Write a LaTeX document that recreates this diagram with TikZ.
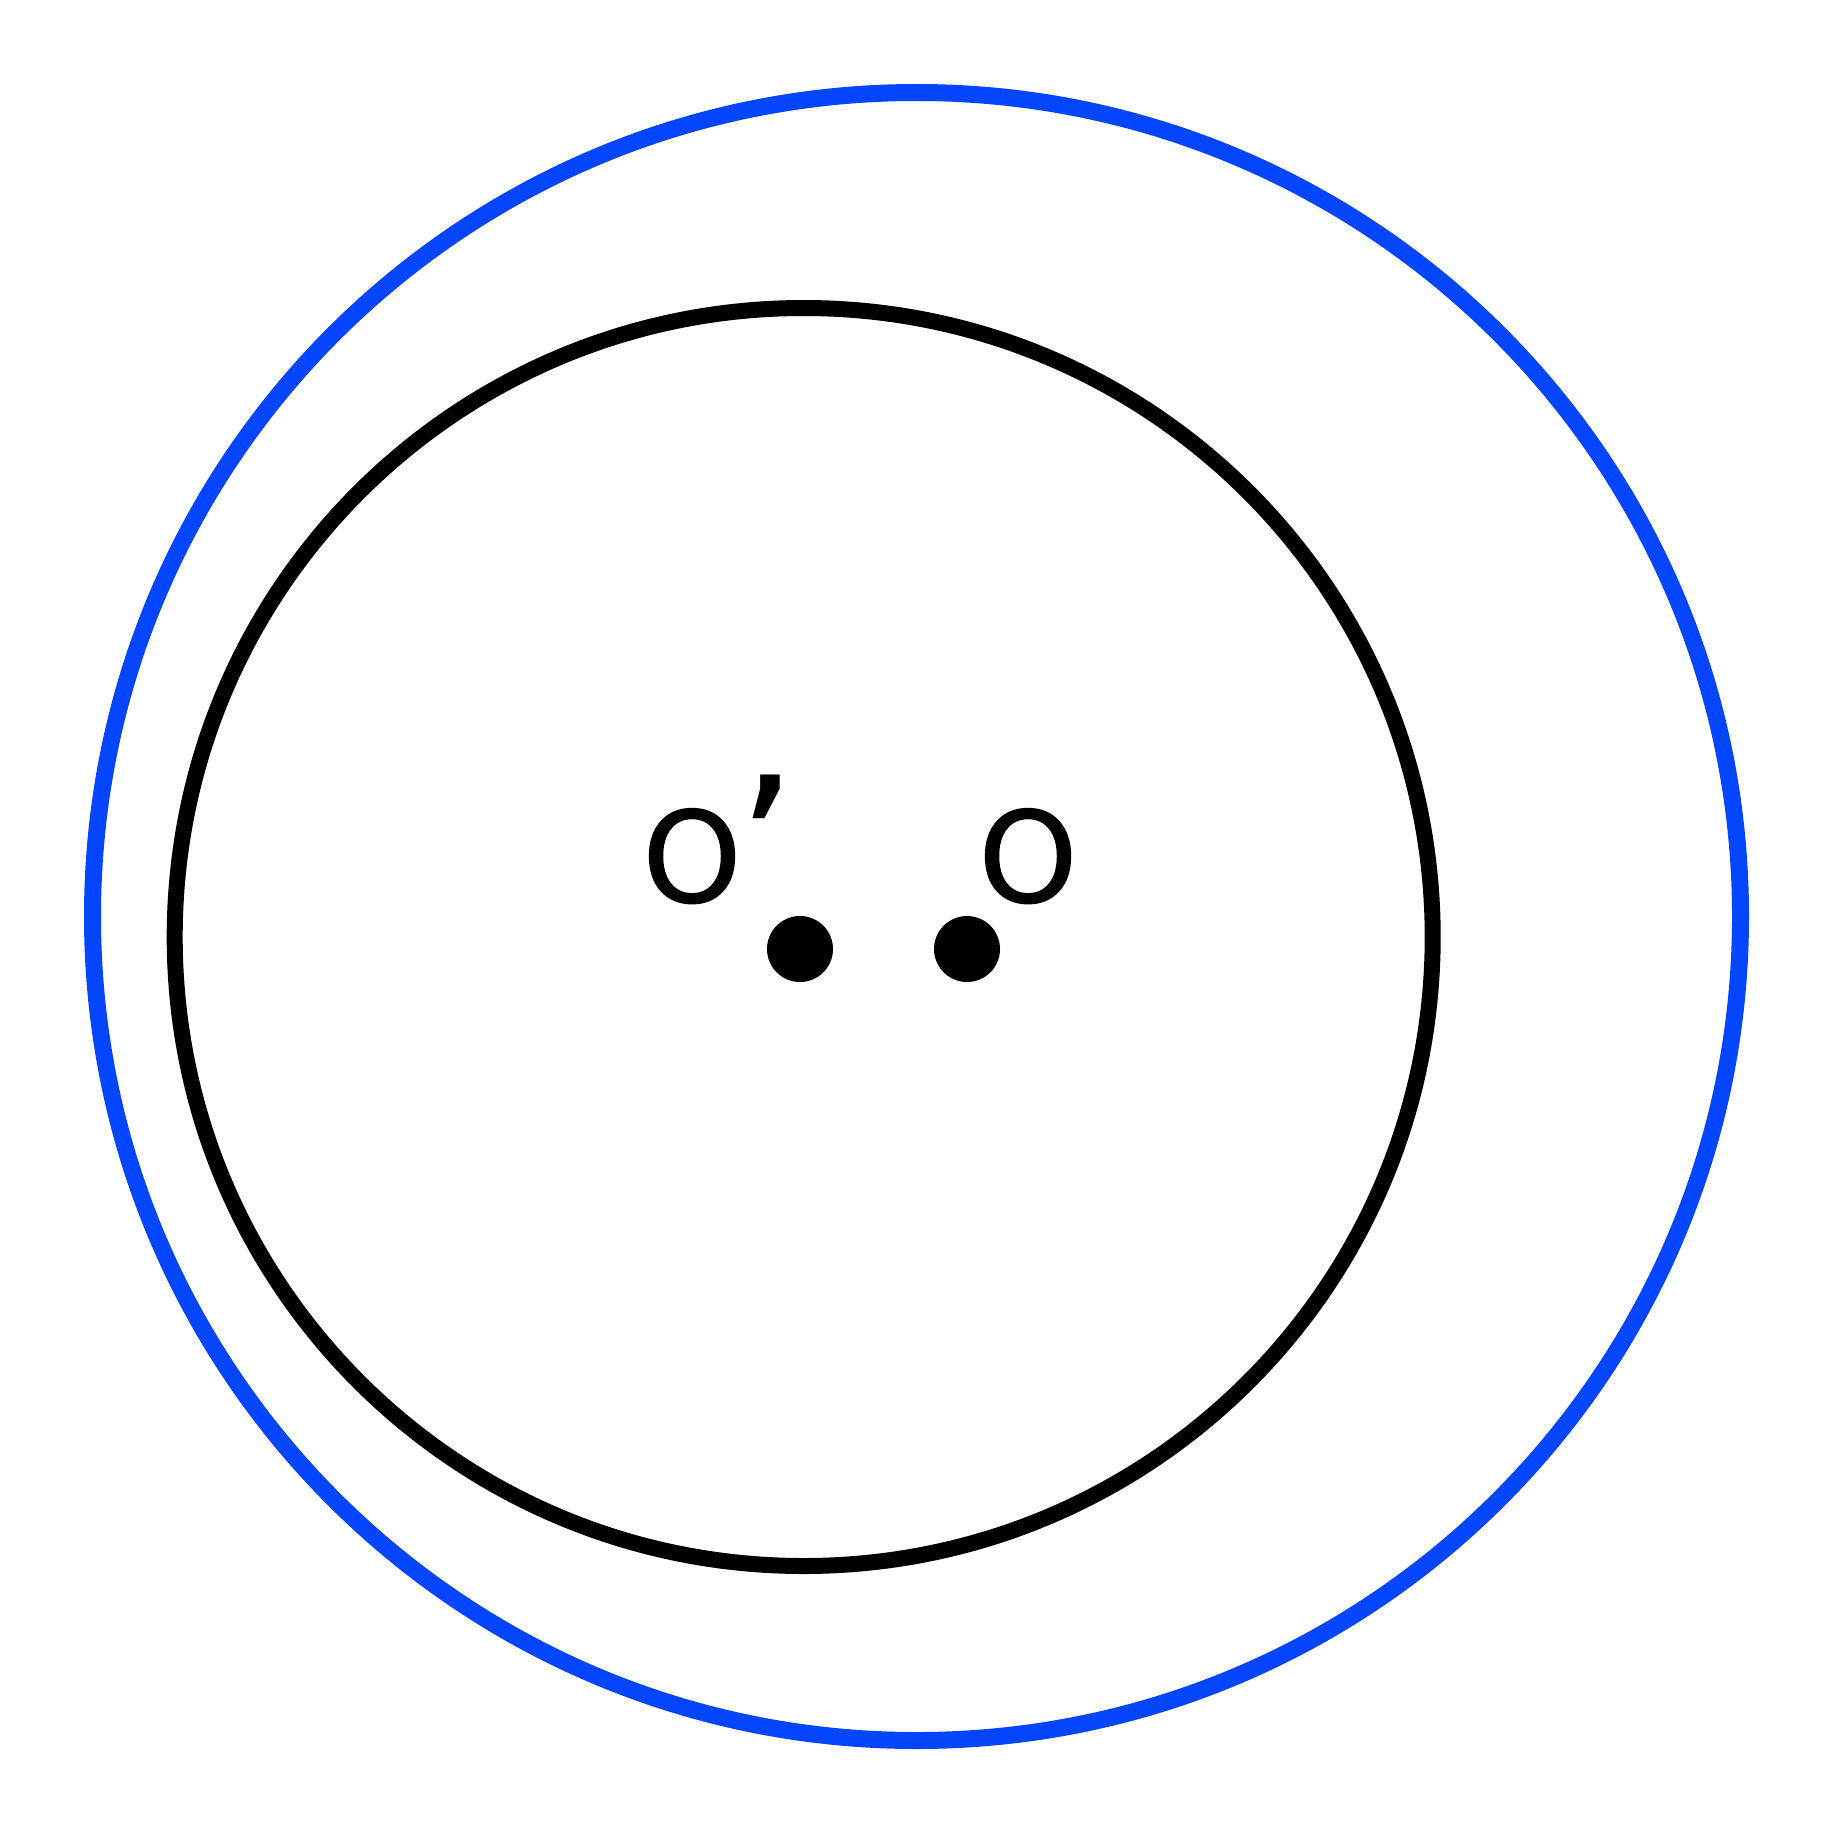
\documentclass[tikz,border=0pt]{standalone}
\usepackage{fontspec}
\setmainfont{DejaVu Sans}
\newfontfamily\ofont{DejaVu Sans}[FakeBold=1]
\definecolor{ringblue}{RGB}{4,69,255}
\begin{document}
\begin{tikzpicture}[x=1pt,y=-1pt,
  lbl/.style={inner sep=0pt,font=\fontsize{126}{126}\ofont},
  prime/.style={inner sep=0pt,font=\fontsize{190}{190}\selectfont},
  dot/.style={circle,fill=black,inner sep=0pt,minimum size=66pt}]
\useasboundingbox (0,0) rectangle (1833,1833);
\draw[ringblue,line width=17pt] (916.5,916.5) circle[radius=824];
\draw[black,line width=16pt] (803.7,937) circle[radius=629];
\node[dot] (p) at (800,949) {};
\node[dot] (q) at (967,949) {};
\node[lbl,anchor=base] (op) at (692,902) {O};
\node[prime,anchor=north] (pr) at (767,775) {’};
\node[lbl,anchor=base] (o) at (1028,902) {O};
\end{tikzpicture}
\end{document}
